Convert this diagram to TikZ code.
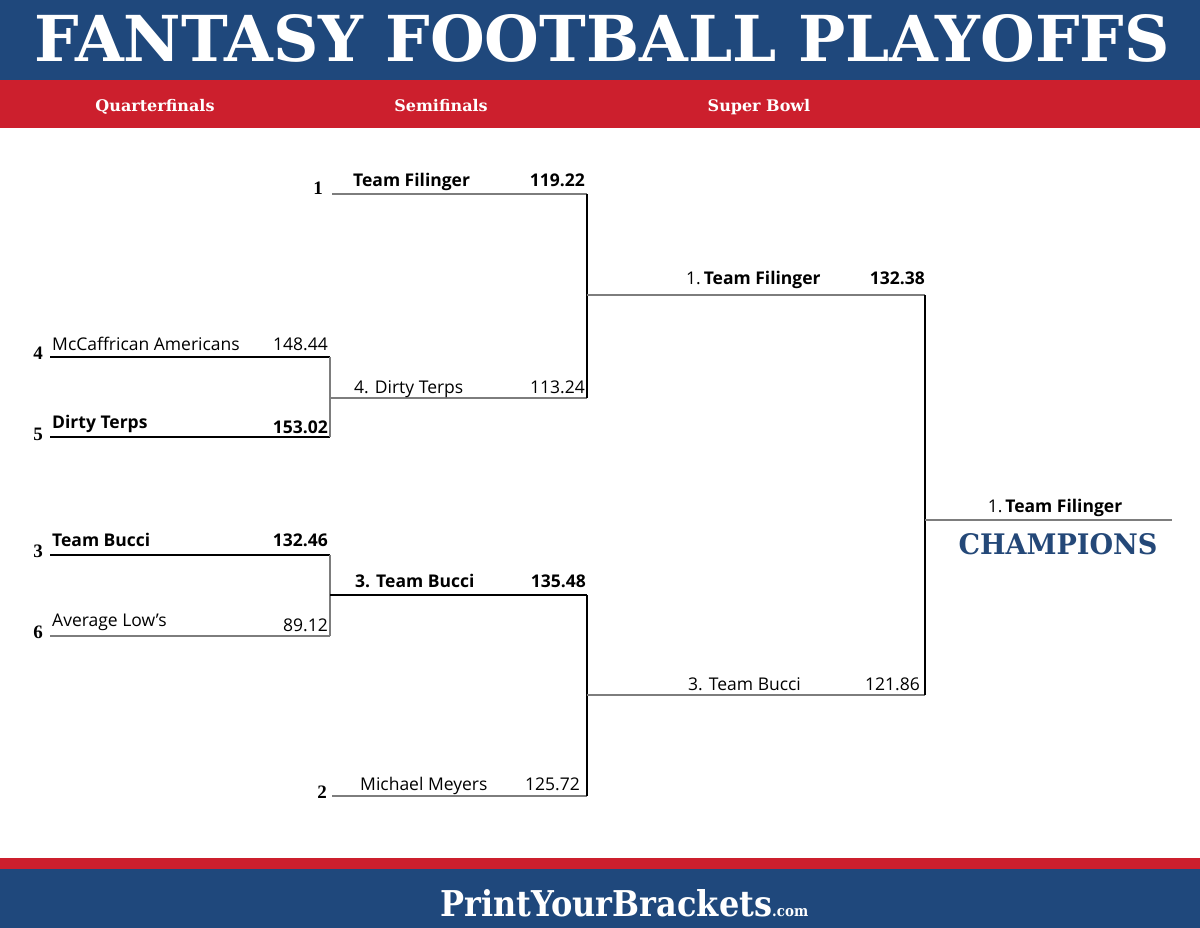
\documentclass[tikz,border=0pt]{standalone}
\usepackage{fontspec}
\usepackage{graphicx}
\setmainfont{Open Sans}
\newfontfamily\slabfont{DejaVu Serif}
\newfontfamily\seedfont{Liberation Serif}
\usetikzlibrary{positioning}
\definecolor{NavyBand}{RGB}{31,72,124}
\definecolor{RedBand}{RGB}{204,31,45}
\definecolor{ChampBlue}{RGB}{36,72,120}
\definecolor{LineGray}{RGB}{125,125,125}

\begin{document}
\begin{tikzpicture}[x=1pt, y=-1pt,
    team/.style={anchor=base west, inner sep=0pt, font=\fontsize{17.5}{20}\selectfont},
    score/.style={anchor=base east, inner sep=0pt, font=\fontsize{17.5}{20}\selectfont},
    seed/.style={anchor=base, inner sep=0pt, font=\seedfont\bfseries\fontsize{19}{21}\selectfont},
    win/.style={line width=2.2pt, black},
    lose/.style={line width=1.2pt, LineGray},
    roundname/.style={anchor=base, inner sep=0pt, text=white, font=\slabfont\bfseries\fontsize{16}{18}\selectfont}]
    \useasboundingbox (0,0) rectangle (1200,928);

    % Bands
    \fill [NavyBand] (0,0) rectangle (1200,80);
    \fill [RedBand] (0,80) rectangle (1200,128);
    \fill [RedBand] (0,858) rectangle (1200,869);
    \fill [NavyBand] (0,869) rectangle (1200,928);

    % Title and rounds
    \node [anchor=base, inner sep=0pt, text=white] (title) at (602,62) {\resizebox{1135pt}{47pt}{\slabfont\bfseries FANTASY FOOTBALL PLAYOFFS}};
    \node [roundname] (qf) at (155,112) {Quarterfinals};
    \node [roundname] (sf) at (441,112) {Semifinals};
    \node [roundname] (sb) at (759,112) {Super Bowl};

    % Slots
    \coordinate (q1a) at (50,357);
    \coordinate (q1b) at (50,437);
    \coordinate (q2a) at (50,555);
    \coordinate (q2b) at (50,636);
    \coordinate (s1) at (332,194);
    \coordinate (s2) at (330,398);
    \coordinate (s3) at (330,595);
    \coordinate (s4) at (332,796);
    \coordinate (f1) at (587,295);
    \coordinate (f2) at (587,695);
    \coordinate (ch) at (925,520);
    \coordinate (chend) at (1172,520);

    % Quarterfinals
    \draw [win] (q1a) -- (q1a -| s2);
    \draw [win] (q1b) -- (q1b -| s2);
    \draw [lose] (q1a -| s2) -- (q1b -| s2);
    \draw [win] (q2a) -- (q2a -| s3);
    \draw [lose] (q2b) -- (q2b -| s3);
    \draw [lose] (q2a -| s3) -- (q2b -| s3);

    % Semifinals
    \draw [lose] (s1) -- (s1 -| f1);
    \draw [lose] (s2) -- (s2 -| f1);
    \draw [win] (s1 -| f1) -- (s2 -| f1);
    \draw [win] (s3) -- (s3 -| f2);
    \draw [lose] (s4) -- (s4 -| f2);
    \draw [win] (s3 -| f2) -- (s4 -| f2);

    % Super Bowl
    \draw [lose] (f1) -- (f1 -| ch);
    \draw [lose] (f2) -- (f2 -| ch);
    \draw [win] (f1 -| ch) -- (f2 -| ch);
    \draw [lose] (ch) -- (chend);

    % Seeds
    \node [seed] (seed4) at (38,359) {4};
    \node [seed] (seed5) at (38,440) {5};
    \node [seed] (seed3) at (38,557) {3};
    \node [seed] (seed6) at (38,638) {6};
    \node [seed] (seed1) at (318,195) {1};
    \node [seed] (seed2) at (322,798) {2};

    % Quarterfinal teams
    \node [team] (mca) at (52,350) {McCaffrican Americans};
    \node [score] (mcascore) at (328,350) {148.44};
    \node [team] (dtq) at (52,428) {\textbf{Dirty Terps}};
    \node [score] (dtqscore) at (328,433) {\textbf{153.02}};
    \node [team] (tbq) at (52,546) {\textbf{Team Bucci}};
    \node [score] (tbqscore) at (328,546) {\textbf{132.46}};
    \node [team] (avl) at (52,626) {Average Low’s};
    \node [score] (avlscore) at (328,631) {89.12};

    % Semifinal teams
    \node [team] (tfs) at (353,187) {\textbf{Team Filinger}};
    \node [score] (tfsscore) at (585,187) {\textbf{119.22}};
    \node [team] (dts) at (354,393) {4. Dirty Terps};
    \node [score] (dtsscore) at (585,393) {113.24};
    \node [team] (tbs) at (355,587) {\textbf{3. Team Bucci}};
    \node [score] (tbsscore) at (586,587) {\textbf{135.48}};
    \node [team] (mm) at (360,790) {Michael Meyers};
    \node [score] (mmscore) at (580,790) {125.72};

    % Super Bowl teams
    \node [team] (tff) at (686,285) {1.\,\textbf{Team Filinger}};
    \node [score] (tffscore) at (925,285) {\textbf{132.38}};
    \node [team] (tbf) at (688,690) {3. Team Bucci};
    \node [score] (tbfscore) at (920,690) {121.86};

    % Champion
    \node [team, anchor=base] (champ) at (1055,512) {1.\,\textbf{Team Filinger}};
    \node [anchor=base, inner sep=0pt, text=ChampBlue] (champs) at (1058,554) {\resizebox{199pt}{21pt}{\slabfont\bfseries CHAMPIONS}};

    % Footer
    \node [anchor=base west, inner sep=0pt, text=white] (site) at (440,916) {\resizebox{332pt}{27pt}{\slabfont\bfseries PrintYourBrackets}\resizebox{36pt}{8pt}{\slabfont\bfseries .com}};
\end{tikzpicture}
\end{document}
